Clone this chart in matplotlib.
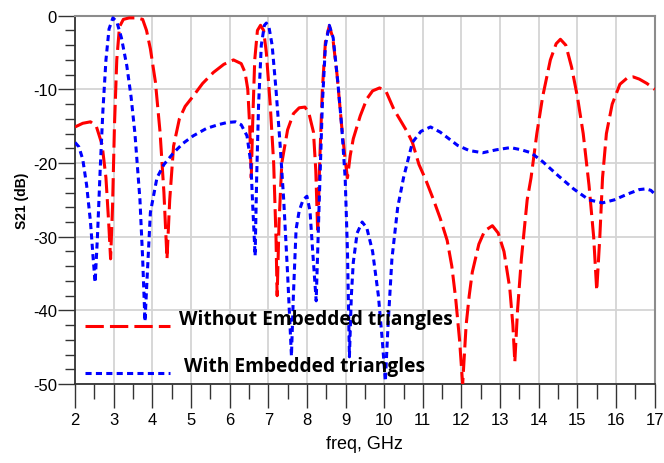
import matplotlib
matplotlib.use("Agg")
import matplotlib.pyplot as plt
from matplotlib.ticker import MultipleLocator

plt.rcParams["axes.unicode_minus"] = False

# S21 without embedded triangles (red dashed)
freq_red = [2.0, 2.2, 2.4, 2.55, 2.7, 2.8, 2.87, 2.92, 2.97, 3.02, 3.08, 3.15, 3.25, 3.4,
            3.6, 3.75, 3.85, 3.95, 4.08, 4.2, 4.3, 4.38, 4.45, 4.55, 4.7, 4.85, 5.06, 5.3,
            5.58, 5.85, 6.1, 6.3, 6.4, 6.47, 6.52, 6.56, 6.6, 6.65, 6.72, 6.8, 6.88, 6.95,
            7.05, 7.14, 7.2, 7.23, 7.28, 7.35, 7.5, 7.65, 7.8, 7.95, 8.05, 8.17, 8.23, 8.28,
            8.33, 8.4, 8.48, 8.58, 8.67, 8.78, 8.9, 9.0, 9.05, 9.12, 9.2, 9.38, 9.55, 9.7,
            9.88, 10.05, 10.25, 10.6, 10.73, 10.9, 11.07, 11.27, 11.45, 11.63, 11.75, 11.85,
            11.95, 12.03, 12.12, 12.2, 12.28, 12.45, 12.6, 12.8, 12.95, 13.1, 13.25, 13.33,
            13.38, 13.45, 13.55, 13.7, 13.8, 13.95, 14.1, 14.3, 14.45, 14.56, 14.7, 14.85,
            15.0, 15.15, 15.3, 15.42, 15.5, 15.58, 15.65, 15.75, 15.9, 16.1, 16.3, 16.44,
            16.6, 16.8, 17.0]
s21_red = [-15.1, -14.6, -14.4, -15.0, -17.5, -22, -28, -33, -26, -15, -6, -1.5, -0.5, -0.3,
           -0.3, -0.5, -2, -4.5, -9, -15.8, -24, -33, -25, -17.7, -14, -12.3, -10.9, -9.2,
           -7.7, -6.6, -6.0, -6.5, -7.7, -10, -15, -22, -14, -6, -2, -1.3, -2, -5,
           -12, -20, -30, -38, -28, -20, -15.5, -13.3, -12.5, -12.4, -13.2, -15.8, -21, -29.5,
           -20, -10, -3.5, -1.4, -3, -8, -15, -20, -22, -19, -16.7, -13.6, -11.3, -10.2,
           -9.8, -10.3, -12.7, -15.8, -17.2, -20.2, -22.2, -24.9, -27.5, -30.5, -34, -38.4,
           -44, -50, -42, -38, -34.8, -31, -29.2, -28.5, -29.5, -32, -37, -42,
           -47, -40, -33, -25, -22, -16, -11, -6, -3.8, -3.2, -4, -7,
           -11, -16, -23, -30, -37.3, -30, -22, -16, -12, -9.3, -8.4, -8.3,
           -8.6, -9.2, -10.0]

# S21 with embedded triangles (blue dotted)
freq_blue = [2.0, 2.1, 2.2, 2.3, 2.4, 2.47, 2.52, 2.58, 2.65, 2.72, 2.8, 2.88, 2.98, 3.08,
             3.2, 3.34, 3.45, 3.55, 3.68, 3.75, 3.81, 3.88, 3.95, 4.12, 4.3, 4.55, 4.8, 5.06,
             5.4, 5.7, 5.93, 6.15, 6.3, 6.45, 6.55, 6.6, 6.66, 6.7, 6.75, 6.82, 6.9, 6.95,
             7.02, 7.1, 7.2, 7.3, 7.4, 7.5, 7.6, 7.65, 7.72, 7.8, 7.9, 8.0, 8.08, 8.15,
             8.24, 8.32, 8.4, 8.48, 8.58, 8.68, 8.8, 8.9, 8.99, 9.05, 9.1, 9.15, 9.2, 9.3,
             9.43, 9.55, 9.7, 9.85, 9.95, 10.03, 10.1, 10.2, 10.35, 10.5, 10.73, 10.95, 11.2,
             11.45, 11.7, 11.9, 12.2, 12.55, 12.9, 13.27, 13.55, 13.8, 14.1, 14.5, 14.9, 15.3,
             15.65, 15.95, 16.3, 16.6, 16.77, 16.9, 17.0]
s21_blue = [-17.2, -17.8, -19.5, -23, -28, -33, -36.2, -30, -21, -13, -6, -1.8, -0.3, -0.8,
            -3, -6.8, -11, -16, -25, -33, -41.5, -34, -26.7, -22, -20.2, -18.6, -17.3, -16.3,
            -15.3, -14.8, -14.5, -14.4, -14.8, -16.3, -20, -26, -32.6, -22, -12, -4, -1.3, -1.0,
            -1.6, -4, -10, -17, -25, -35, -46.2, -38, -29, -26.5, -25, -24.5, -26.5, -32,
            -38.7, -25, -12, -4, -1.3, -3, -9, -15, -22, -32, -46.3, -38, -33.5, -29.5,
            -28, -28.8, -32, -38, -44, -49.6, -42, -33, -26, -22, -17.2, -15.7, -15.1,
            -15.8, -16.8, -17.6, -18.3, -18.6, -18.2, -17.9, -18.2, -18.6, -19.8, -21.7, -23.5, -25,
            -25.4, -25, -24.2, -23.6, -23.5, -23.7, -24.2]

legend_labels = ["Without Embedded triangles", "With Embedded triangles"]

fig = plt.figure(figsize=(6.64, 4.64), dpi=100)
ax = fig.add_axes([0.113, 0.170, 0.873, 0.794])

ax.plot(freq_red, s21_red, color="red", lw=2.2, dashes=(6, 2), zorder=3)
ax.plot(freq_blue, s21_blue, color="blue", lw=2.2, dashes=(2, 1.4), zorder=3)

ax.set_xlim(2, 17)
ax.set_ylim(-50, 0)
ax.xaxis.set_major_locator(MultipleLocator(1))
ax.xaxis.set_minor_locator(MultipleLocator(0.5))
ax.yaxis.set_major_locator(MultipleLocator(10))
ax.yaxis.set_minor_locator(MultipleLocator(2))
ax.grid(True, which="major", color="#d4d4d4", lw=1.3, zorder=0)

for side in ("top", "right"):
    ax.spines[side].set_color("#8c8c8c")
    ax.spines[side].set_linewidth(1.5)
for side in ("left", "bottom"):
    ax.spines[side].set_color("#333333")
    ax.spines[side].set_linewidth(1.3)

ax.tick_params(axis="y", which="major", length=12, width=1, color="#333333",
               labelsize=12, pad=1)
ax.tick_params(axis="y", which="minor", length=7, width=1, color="#333333")
ax.tick_params(axis="x", which="major", length=17, width=1, color="#333333",
               labelsize=12, pad=3)
ax.tick_params(axis="x", which="minor", length=11, width=1, color="#333333")
for lab in ax.get_xticklabels() + ax.get_yticklabels():
    lab.set_family("Liberation Sans")

ax.set_xlabel("freq, GHz", family="Liberation Sans", fontsize=13, labelpad=6)
ax.set_ylabel("S21 (dB)", family="Liberation Sans", fontsize=10, fontweight="bold",
              labelpad=3)

# legend drawn by hand inside the plot
ax.plot([2.25, 4.45], [-42.1, -42.1], color="red", lw=2.2, dashes=(6, 2), zorder=4)
ax.plot([2.25, 4.45], [-48.5, -48.5], color="blue", lw=2.2, dashes=(2, 1.4), zorder=4)
ax.text(4.7, -41.2, legend_labels[0], family="Open Sans", fontweight="bold", fontsize=13.8,
        va="center", ha="left", zorder=5)
ax.text(4.83, -47.6, legend_labels[1], family="Open Sans", fontweight="bold", fontsize=13.8,
        va="center", ha="left", zorder=5)

fig.savefig("out.png", dpi=100, facecolor="white")
